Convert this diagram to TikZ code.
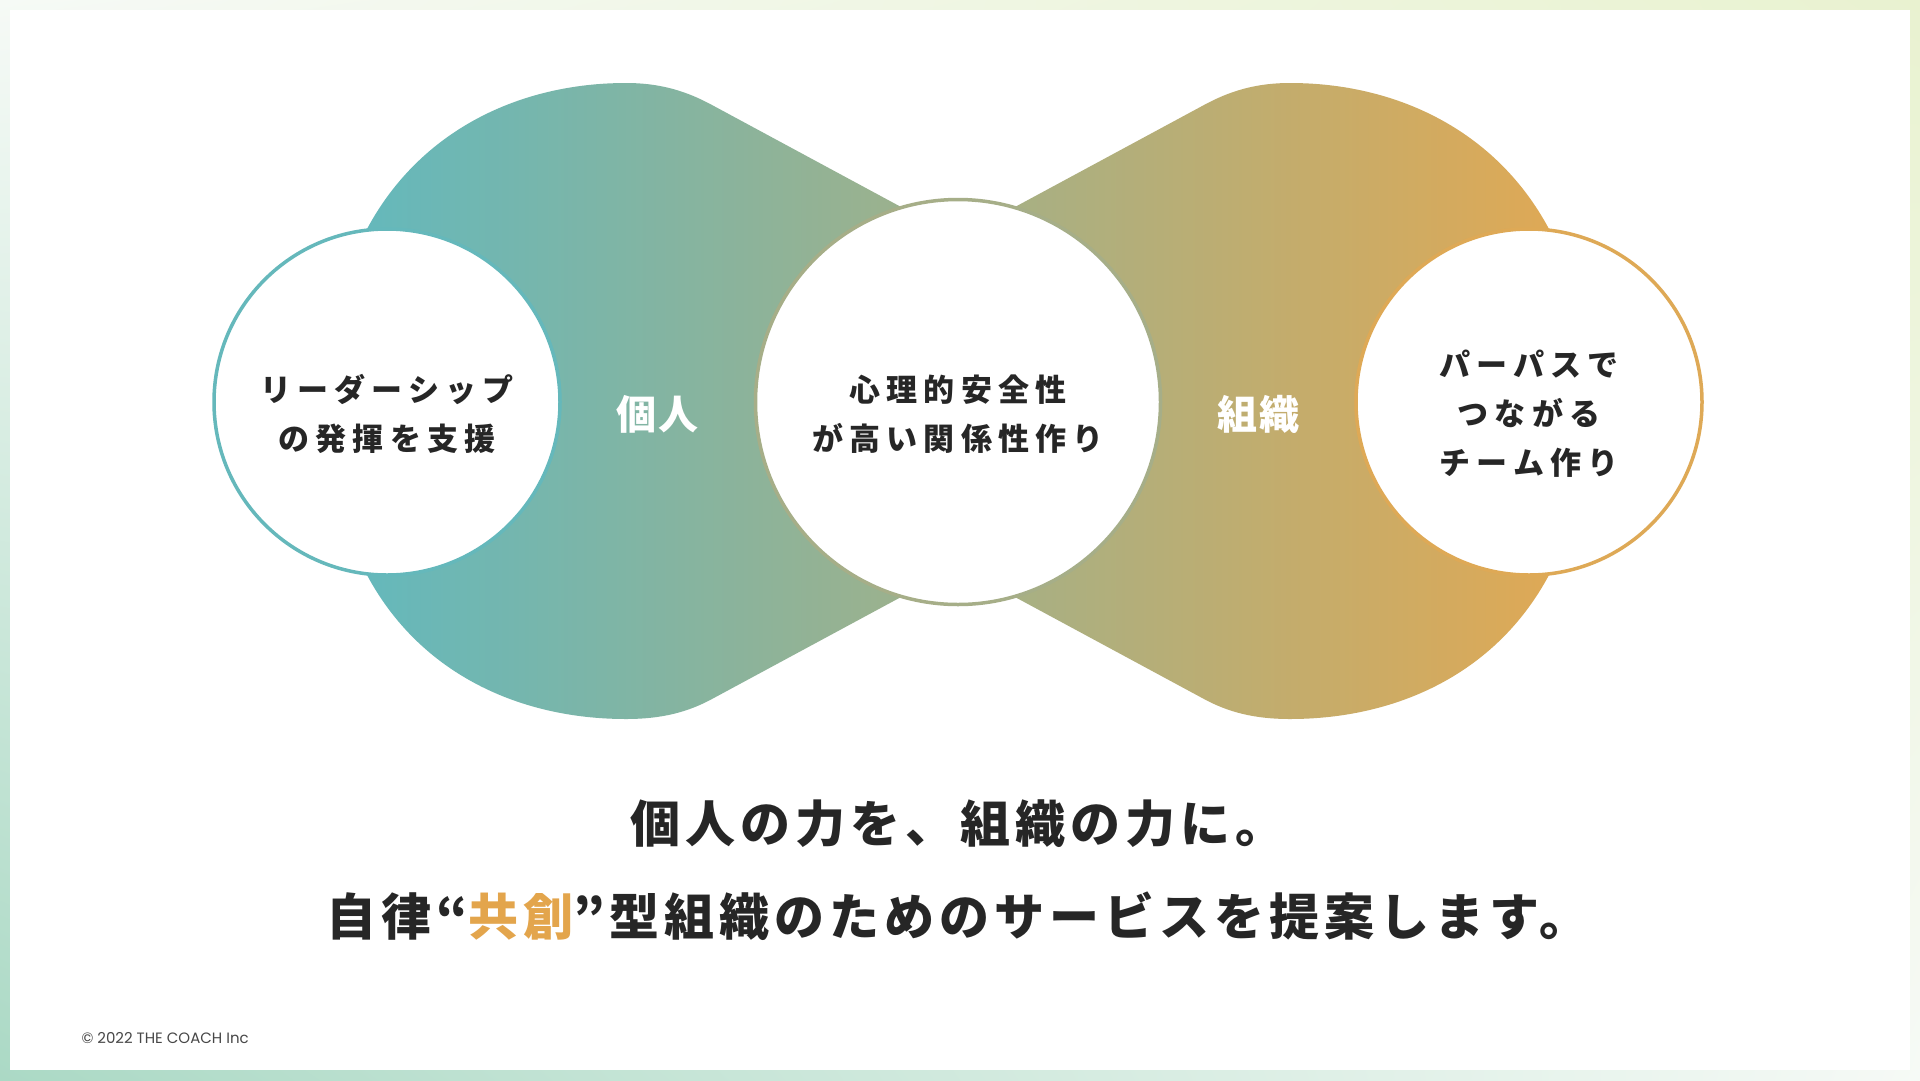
\documentclass[tikz,border=0pt]{standalone}
\usepackage{fontspec}
\setmainfont{Noto Sans CJK JP}
\newfontfamily\jpwide{Noto Sans CJK JP}[LetterSpace=20]
\newfontfamily\jpslogan{Noto Sans CJK JP}[LetterSpace=10]
\newfontfamily\jplabel{Noto Sans CJK JP}[LetterSpace=4]
\newfontfamily\copyfont{Poppins}
\usetikzlibrary{positioning, calc, shadings}

\definecolor{coachteal}{HTML}{65B8BB}
\definecolor{coachsage}{HTML}{A6AE88}
\definecolor{coachgold}{HTML}{DEA956}
\definecolor{accentgold}{HTML}{E3A54C}
\definecolor{inkdark}{HTML}{262626}
\definecolor{framemint}{HTML}{ABD9C5}
\definecolor{framelime}{HTML}{E9F2D0}
\definecolor{frameoff}{HTML}{F6FAF6}

\begin{document}
\begin{tikzpicture}[
    x=1pt, y=-1pt,
    every node/.style={align=center},
    bubble/.style={circle, draw, fill=white, line width=3.5pt, inner sep=0pt},
    bubtext/.style={text=inkdark, yshift=-12pt, font=\jpwide\bfseries\fontsize{31}{49}\selectfont},
    keyword/.style={text=white, yshift=-12pt, font=\jplabel\bfseries\fontsize{40}{48}\selectfont},
    slogan/.style={text=inkdark, font=\jpslogan\bfseries\fontsize{50}{93}\selectfont},
    credit/.style={text=inkdark!85, font=\copyfont\fontsize{15}{18}\selectfont, anchor=west}
]
    \useasboundingbox (0,0) rectangle (1920,1080);

    % Frame
    \shade[upper left=frameoff, lower left=framemint, upper right=framelime, lower right=frameoff]
        (0,0) rectangle (1920,1080);
    \fill[white] (10,10) rectangle (1910,1070);

    % Blobs behind the circles
    \begin{scope}
        \clip (367,229) .. controls (420,130) and (520,83) .. (626,83)
            .. controls (662,83) and (688,92) .. (712,105) -- (940,228) -- (940,576)
            -- (712,699) .. controls (688,712) and (662,719) .. (626,719)
            .. controls (520,719) and (420,674) .. (367,575) -- cycle
            (1549,229) .. controls (1496,130) and (1396,83) .. (1290,83)
            .. controls (1254,83) and (1228,92) .. (1204,105) -- (976,228) -- (976,576)
            -- (1204,699) .. controls (1228,712) and (1254,719) .. (1290,719)
            .. controls (1396,719) and (1496,674) .. (1549,575) -- cycle;
        \shade[left color=coachteal, right color=coachgold] (367,60) rectangle (1549,745);
    \end{scope}

    % Nodes
    \node[bubble, draw=coachteal, minimum size=346] (lead) at (387,402) {};
    \node[bubble, draw=coachsage, minimum size=405] (safety) at (958,402) {};
    \node[bubble, draw=coachgold, minimum size=346] (purpose) at (1529,402) {};

    \node[bubtext] (leadtext) at (lead.center) {リーダーシップ\\の発揮を支援};
    \node[bubtext] (safetytext) at (safety.center) {心理的安全性\\が高い関係性作り};
    \node[bubtext] (purposetext) at (purpose.center) {パーパスで\\つながる\\チーム作り};

    \node[keyword] (self) at ($(lead.east)!0.5!(safety.west)$) {個人};
    \node[keyword] (team) at ($(safety.east)!0.5!(purpose.west)$) {組織};

    \node[slogan] (message) at (958,870)
        {個人の力を、組織の力に。\\自律“{\color{accentgold}共創}”型組織のためのサービスを提案します。};

    \node[credit] (copy) at (78,1038) {© 2022 THE COACH Inc};
\end{tikzpicture}
\end{document}
